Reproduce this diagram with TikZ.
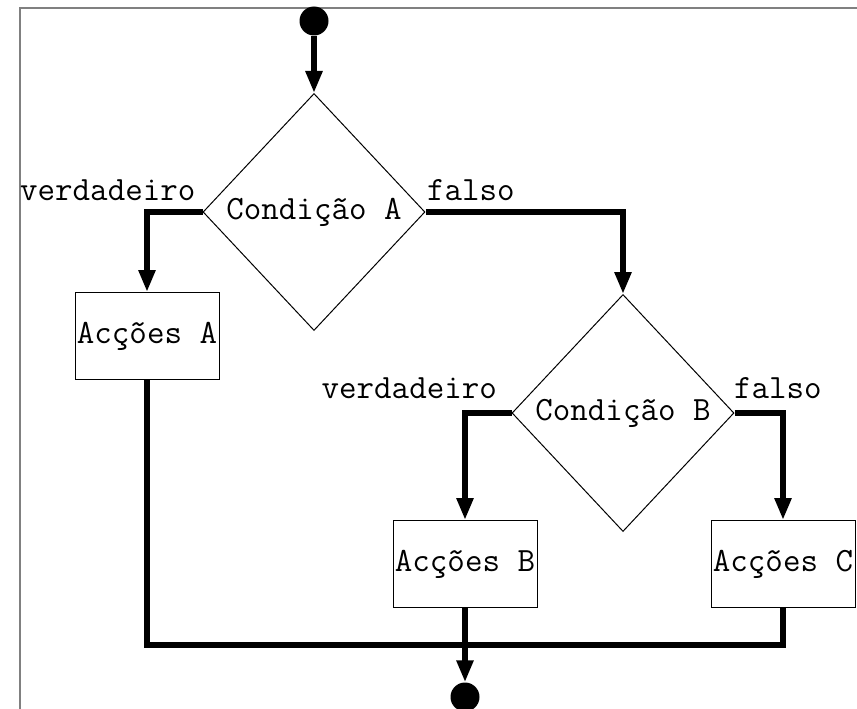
\documentclass[tikz,border=0pt]{standalone}
\usepackage{tikz}
\usetikzlibrary{shapes.geometric, arrows.meta, positioning}

\begin{document}
\begin{tikzpicture}[x=1pt,y=-1pt,
  every node/.style={font=\ttfamily\fontsize{34}{40}\selectfont},
  cond/.style={diamond,draw,line width=1pt,inner sep=0pt,minimum width=222pt,minimum height=237pt},
  act/.style={rectangle,draw,line width=1pt,inner sep=0pt,minimum width=144pt,minimum height=87pt},
  enddot/.style={circle,fill,inner sep=0pt,minimum size=29pt},
  lbl/.style={inner sep=0pt},
  flow/.style={line width=6pt,-{Triangle[length=22pt,width=16pt]}},
  merge/.style={line width=6pt}]
  \useasboundingbox (0,0) rectangle (857,709);
  % frame
  \draw[gray,line width=1.5pt] (20,709) -- (20,8) -- (857,8);
  % start and end
  \node[enddot] (start) at (314,21) {};
  \node[enddot] (stop) at (465,697) {};
  % conditions
  \node[cond] (condA) at (314,212) {Condição A};
  \node[cond] (condB) at (623,413) {Condição B};
  % actions
  \node[act] (actA) at (147,336) {Acções A};
  \node[act] (actB) at (465,564) {Acções B};
  \node[act] (actC) at (783,564) {Acções C};
  % branch labels
  \node[lbl,anchor=base west] (trueA) at (20,200) {verdadeiro};
  \node[lbl,anchor=base west] (falseA) at (427,200) {falso};
  \node[lbl,anchor=base east] (trueB) at (497,398) {verdadeiro};
  \node[lbl,anchor=base west] (falseB) at (734,398) {falso};
  % connectors
  \coordinate (joint) at (465,645);
  \draw[flow] (start) -- (condA.north);
  \draw[flow] (condA.west) -| (actA.north);
  \draw[flow] (condA.east) -| (condB.north);
  \draw[flow] (condB.west) -| (actB.north);
  \draw[flow] (condB.east) -| (actC.north);
  \draw[merge] (actA.south) |- (joint) -| (actC.south);
  \draw[flow] (actB.south) -- (stop.north);
\end{tikzpicture}
\end{document}
